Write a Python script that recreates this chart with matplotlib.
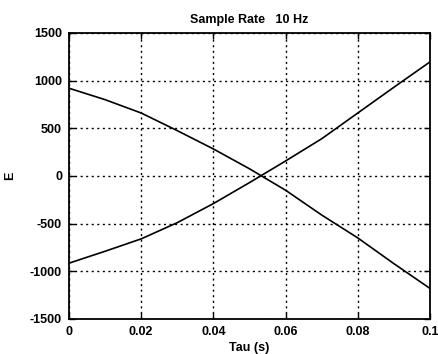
import numpy as np
import matplotlib.pyplot as plt

plt.rcParams['font.family'] = ['Liberation Sans', 'DejaVu Sans']
plt.rcParams['axes.unicode_minus'] = False

# E fuer beide Richtungen ueber tau
tau = [0.0, 0.01, 0.02, 0.03, 0.04, 0.05, 0.06, 0.07, 0.08, 0.09, 0.1]
e_ab = [920, 800, 660, 475, 283, 75, -150, -410, -650, -920, -1180]
e_auf = [-915, -790, -660, -490, -290, -70, 157, 390, 660, 930, 1196]

fig = plt.figure(figsize=(4.38, 3.54), dpi=100)
ax = fig.add_axes([0.1575, 0.099, 0.8242, 0.808])

ax.plot(tau, e_ab, 'k-', lw=1.2)
ax.plot(tau, e_auf, 'k-', lw=1.2)

ax.set_xlim(0, 0.1)
ax.set_ylim(-1500, 1500)
ax.set_xticks([0, 0.02, 0.04, 0.06, 0.08, 0.1])
ax.set_xticklabels(['0', '0.02', '0.04', '0.06', '0.08', '0.1'])
ax.set_yticks(np.arange(-1500, 1501, 500))
ax.grid(True, color='k', linestyle=(0, (1.5, 2.5)), lw=1.0)
ax.tick_params(direction='in', length=4, labelsize=9, width=1, pad=5,
               top=True, right=True)
for lbl in ax.get_xticklabels() + ax.get_yticklabels():
    lbl.set_fontweight('bold')
for s in ax.spines.values():
    s.set_linewidth(1.3)

ax.set_title('Sample Rate   10 Hz', fontsize=9, fontweight='bold', pad=7)
ax.set_xlabel('Tau (s)', fontsize=9, fontweight='bold', labelpad=3)
ax.set_ylabel('E', fontsize=9, fontweight='bold', labelpad=10)

fig.savefig('out.png', dpi=100)
